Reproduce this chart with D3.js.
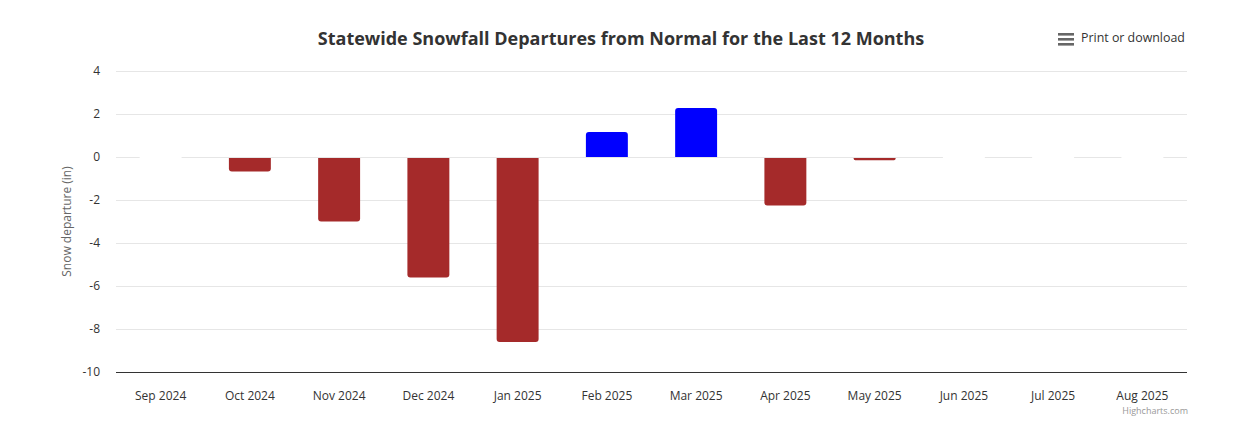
<!DOCTYPE html>
<html><head><meta charset="utf-8">
<script src="https://cdn.jsdelivr.net/npm/d3@7"></script>
<style>body{margin:0;background:#fff}svg{display:block}text{font-family:"Open Sans","Noto Sans",sans-serif}</style>
</head><body><svg id="c" width="1256" height="435"></svg>
<script>
const categories = ["Sep 2024","Oct 2024","Nov 2024","Dec 2024","Jan 2025","Feb 2025","Mar 2025","Apr 2025","May 2025","Jun 2025","Jul 2025","Aug 2025"];
const departures = [0, -0.67, -3.0, -5.6, -8.6, 1.16, 2.28, -2.25, -0.15, 0, 0, 0];
const yTicks = [4, 2, 0, -2, -4, -6, -8, -10];
const titleText = "Statewide Snowfall Departures from Normal for the Last 12 Months";
const yTitle = "Snow departure (in)";

const svg = d3.select("#c");
const m = {l:116, r:1187, t:71, b:372};
const x = d3.scaleBand().domain(categories).range([m.l, m.r]).paddingInner(0.53).paddingOuter(0.265);
const y = d3.scaleLinear().domain([-10, 4]).range([m.b, m.t]);

// gridlines
svg.append("g").selectAll("line").data(yTicks.filter(d=>d!==-10)).join("line")
  .attr("x1", m.l).attr("x2", m.r).attr("y1", d=>y(d)+0.5).attr("y2", d=>y(d)+0.5)
  .attr("stroke", "#e6e6e6").attr("stroke-width", 1);

// y axis labels
const ya = svg.append("g").attr("transform", `translate(${m.l-16},0)`)
  .call(d3.axisLeft(y).tickValues(yTicks).tickSize(0).tickPadding(0).tickFormat(d=>String(d)));
ya.select(".domain").remove();
ya.selectAll("text").attr("font-size", 12).attr("fill", "#333").attr("dy", "0.32em").style("font-family", '"Open Sans","Noto Sans",sans-serif');

// y title
svg.append("text").attr("transform", `translate(71,${(m.t+m.b)/2}) rotate(-90)`)
  .attr("text-anchor", "middle").attr("font-size", 12).attr("fill", "#666").text(yTitle);

// bars
const r = 3;
function barPath(d, i) {
  const x0 = x(categories[i]), w = x.bandwidth();
  const y0 = y(0), y1 = y(d);
  if (d === 0) return `M${x0},${y0+0.5}H${x0+w}`;
  const h = Math.abs(y1 - y0);
  const rr = Math.min(r, h/2, w/2);
  if (d > 0) {
    return `M${x0},${y0}V${y1+rr}Q${x0},${y1} ${x0+rr},${y1}H${x0+w-rr}Q${x0+w},${y1} ${x0+w},${y1+rr}V${y0}Z`;
  } else {
    return `M${x0},${y0+1}V${y1-rr}Q${x0},${y1} ${x0+rr},${y1}H${x0+w-rr}Q${x0+w},${y1} ${x0+w},${y1-rr}V${y0+1}Z`;
  }
}
svg.append("g").selectAll("path").data(departures).join("path")
  .attr("d", (d,i)=>barPath(d,i))
  .attr("fill", d=> d===0 ? "none" : (d>0 ? "#0000ff" : "#a52a2a"))
  .attr("stroke", d=> d===0 ? "#fff" : "none").attr("stroke-width", 1.5);

// x axis
svg.append("line").attr("x1", m.l).attr("x2", m.r).attr("y1", m.b+0.5).attr("y2", m.b+0.5)
  .attr("stroke", "#333").attr("stroke-width", 1);
const xa = svg.append("g").attr("transform", `translate(0,${m.b})`)
  .call(d3.axisBottom(x).tickSize(0).tickPadding(0));
xa.select(".domain").remove();
xa.selectAll("text").attr("font-size", 12).attr("fill", "#333").attr("y", 28).attr("dy", 0).style("font-family", '"Open Sans","Noto Sans",sans-serif');

// title
svg.append("text").attr("x", 621).attr("y", 45).attr("text-anchor", "middle")
  .attr("font-size", 18).attr("font-weight", "bold").attr("fill", "#333").text(titleText);

// menu
const menu = svg.append("g");
[0,5,10].forEach(o=>menu.append("rect").attr("x",1058).attr("y",33+o).attr("width",16).attr("height",2.6).attr("fill","#666"));
svg.append("text").attr("x", 1081).attr("y", 42).attr("font-size", 12.4).attr("fill", "#333").text("Print or download");

// credits
svg.append("text").attr("x", 1188).attr("y", 414).attr("text-anchor", "end").attr("font-size", 9).attr("fill", "#999").text("Highcharts.com");
</script></body></html>
